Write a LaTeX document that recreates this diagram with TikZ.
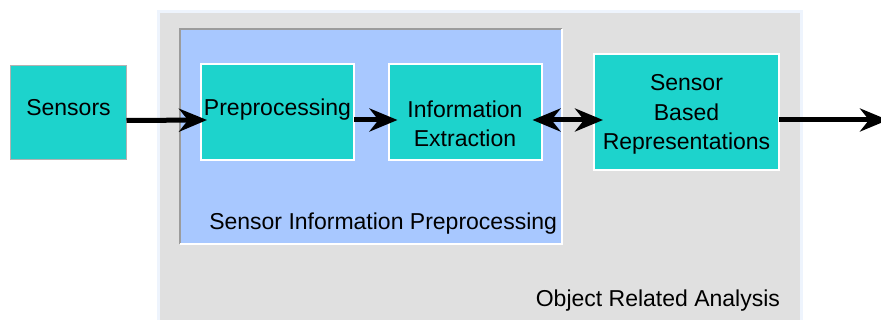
\documentclass[tikz,border=0pt]{standalone}
\usepackage{fontspec}
\setmainfont{Liberation Sans}
\usetikzlibrary{arrows.meta}
\definecolor{boxteal}{HTML}{1DD3CC}
\definecolor{sipblue}{HTML}{A8C8FF}
\definecolor{oragray}{HTML}{E0E0E0}
\definecolor{oraedge}{HTML}{EEF4FD}
\definecolor{sipedge}{HTML}{9C9C9C}

\begin{document}
\begin{tikzpicture}[x=1pt, y=-1pt,
    font=\fontsize{23}{29.7}\selectfont,
    every node/.style={inner sep=0pt, outer sep=0pt},
    >={Stealth[length=28pt,width=23pt,inset=9pt]},
    area/.style={rectangle, anchor=north west},
    block/.style={rectangle, fill=boxteal, draw=white, line width=2pt, align=center, text depth=10pt},
    flow/.style={->, line width=5pt}]
    \useasboundingbox (0,0) rectangle (881,320);

    \node[area, fill=oragray, draw=oraedge, line width=3pt,
          minimum width=643pt, minimum height=310pt] (ora) at (158,12) {};
    \node[area, fill=sipblue, minimum width=382pt, minimum height=215pt] (sip) at (180,29) {};
    \draw[sipedge, line width=2.5pt] (sip.south west) -- (sip.north west) -- (sip.north east);
    \draw[white, line width=1.5pt] (sip.north east) -- (sip.south east) -- (sip.south west);

    \node[block, draw=black!30, line width=1pt, minimum width=116pt, minimum height=94pt] (sens) at (68.5,112.5) {Sensors};
    \node[block, minimum width=153pt, minimum height=96pt] (pre) at (277.5,112) {Preprocessing};
    \node[block, minimum width=153pt, minimum height=96pt, text height=80pt] (info) at (465,112) {Information\\Extraction};
    \node[block, minimum width=185pt, minimum height=116pt, text depth=0pt] (sbr) at (686.5,112) {Sensor\\Based\\Representations};

    \node[anchor=base east] (siplabel) at ([xshift=-5pt,yshift=14pt]sip.south east) {Sensor Information Preprocessing};
    \node[anchor=base east] (oralabel) at ([xshift=-21pt,yshift=15pt]ora.south east) {Object Related Analysis};

    \coordinate (out) at (888,120);
    \draw[flow] ([yshift=-8pt]sens.east) -- ([xshift=6pt,yshift=-8pt]pre.west);
    \draw[flow] ([yshift=-8pt]pre.east) -- ([xshift=9pt,yshift=-8pt]info.west);
    \draw[flow, <->] ([xshift=-9pt,yshift=-8pt]info.east) -- ([xshift=9pt,yshift=-8pt]sbr.west);
    \draw[flow] ([yshift=-8pt]sbr.east) -- (out);
\end{tikzpicture}
\end{document}
